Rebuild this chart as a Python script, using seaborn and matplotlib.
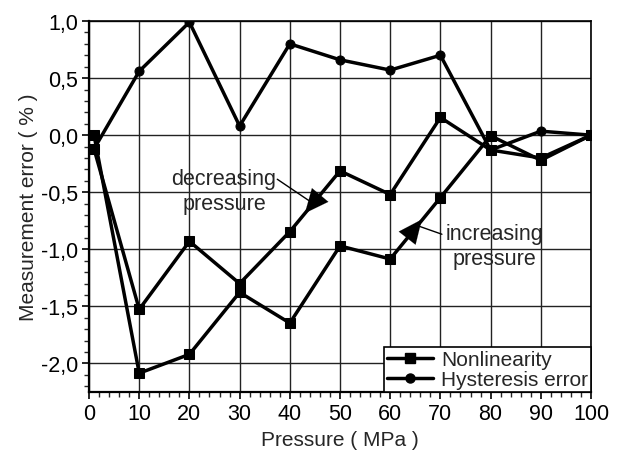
import matplotlib
matplotlib.use("Agg")
import matplotlib.pyplot as plt
import matplotlib.ticker as mticker
from matplotlib.lines import Line2D
import seaborn as sns
import pandas as pd

pressure = [1, 10, 20, 30, 40, 50, 60, 70, 80, 90, 100]
nonlin_increasing = [0.0, -2.085, -1.92, -1.377, -1.646, -0.97, -1.085, -0.547, -0.005, -0.22, 0.0]
nonlin_decreasing = [-0.12, -1.526, -0.93, -1.30, -0.845, -0.313, -0.52, 0.155, -0.13, -0.20, 0.0]
hysteresis = [-0.12, 0.56, 0.99, 0.08, 0.80, 0.66, 0.57, 0.70, -0.13, 0.035, 0.0]

x_ticks = [0, 10, 20, 30, 40, 50, 60, 70, 80, 90, 100]
y_ticks = [-2.0, -1.5, -1.0, -0.5, 0.0, 0.5, 1.0]
y_tick_labels = ["-2,0", "-1,5", "-1,0", "-0,5", "0,0", "0,5", "1,0"]

sns.set_style("white")
plt.rcParams["font.family"] = ["Liberation Sans", "DejaVu Sans"]

nl = pd.DataFrame({
    "p": pressure + pressure,
    "err": nonlin_increasing + nonlin_decreasing,
    "branch": ["inc"] * len(pressure) + ["dec"] * len(pressure),
})
hy = pd.DataFrame({"p": pressure, "err": hysteresis})

fig = plt.figure(figsize=(6.19, 4.52), dpi=100)
ax = fig.add_axes([0.1438, 0.1305, 0.811, 0.8208])

ax.set_axisbelow(True)
ax.grid(True, which="major", color="#222222", linewidth=1.0)

sns.lineplot(data=nl, x="p", y="err", units="branch", estimator=None, sort=False,
             color="black", linewidth=2.5, marker="s", markersize=6.5,
             markeredgecolor="black", ax=ax, legend=False)
sns.lineplot(data=hy, x="p", y="err", sort=False, color="black", linewidth=2.5,
             marker="o", markersize=6.5, markeredgecolor="black", ax=ax, legend=False)

ax.set_xlim(0, 100)
ax.set_ylim(-2.25, 1.0)
ax.set_xticks(x_ticks)
ax.set_yticks(y_ticks)
ax.set_yticklabels(y_tick_labels)
ax.xaxis.set_minor_locator(mticker.MultipleLocator(2))
ax.yaxis.set_minor_locator(mticker.MultipleLocator(0.1))
ax.tick_params(which="major", direction="out", length=5, width=1.2,
               labelsize=15.5, colors="black", bottom=True, left=True, pad=3)
ax.tick_params(which="minor", direction="out", length=3.5, width=1.0,
               bottom=True, left=True)

for side in ["left", "bottom"]:
    ax.spines[side].set_linewidth(1.6)
    ax.spines[side].set_color("black")
for side in ["top", "right"]:
    ax.spines[side].set_linewidth(1.2)
    ax.spines[side].set_color("black")

ax.set_xlabel("Pressure ( MPa )", fontsize=15, labelpad=4)
ax.set_ylabel("Measurement error ( % )", fontsize=15, labelpad=2)

head = "-|>,head_length=1.0,head_width=0.45"
ax.annotate("", xy=(43.0, -0.684), xytext=(46.5, -0.50),
            arrowprops=dict(arrowstyle=head, mutation_scale=17, color="black",
                            lw=0.1, shrinkA=0, shrinkB=0))
ax.annotate("", xy=(66.3, -0.738), xytext=(62.7, -0.94),
            arrowprops=dict(arrowstyle=head, mutation_scale=17, color="black",
                            lw=0.1, shrinkA=0, shrinkB=0))
ax.plot([37.5, 44.2], [-0.386, -0.585], color="black", linewidth=1.0)
ax.plot([70.3, 65.9], [-0.868, -0.80], color="black", linewidth=1.0)

ax.text(26.9, -0.49, "decreasing\npressure", fontsize=15.5, ha="center", va="center",
        linespacing=1.25)
ax.text(80.7, -0.975, "increasing\npressure", fontsize=15.5, ha="center", va="center",
        linespacing=1.25)

handles = [
    Line2D([], [], color="black", linewidth=2.5, marker="s", markersize=6.5),
    Line2D([], [], color="black", linewidth=2.5, marker="o", markersize=6.5),
]
leg = ax.legend(handles, ["Nonlinearity", "Hysteresis error"], loc="lower right",
                fontsize=15, frameon=True, fancybox=False, borderaxespad=0,
                borderpad=0.15, handlelength=2.2, handletextpad=0.4,
                labelspacing=0.05, framealpha=1)
leg.get_frame().set_edgecolor("black")
leg.get_frame().set_linewidth(1.2)

fig.savefig("out.png", dpi=100)
